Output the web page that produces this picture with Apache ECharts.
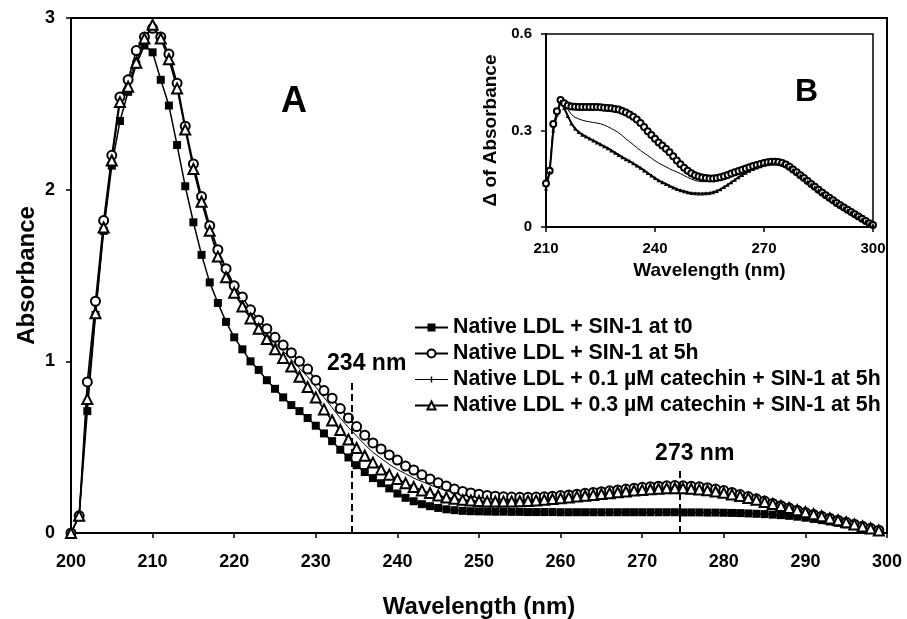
<!DOCTYPE html>
<html>
<head>
<meta charset="utf-8">
<script src="https://cdn.jsdelivr.net/npm/echarts@6/dist/echarts.min.js"></script>
<style>
  html, body { margin: 0; padding: 0; background: #fff; }
  #chart { width: 907px; height: 619px; }
</style>
</head>
<body>
<div id="chart"></div>
<script>
'use strict';

var FONT = '"Liberation Sans", Arial, Helvetica, sans-serif';

// main panel A: wavelength (nm) and absorbance
var wlMain = [
  200, 201, 202, 203, 204, 205, 206, 207, 208, 209,
  210, 211, 212, 213, 214, 215, 216, 217, 218, 219,
  220, 221, 222, 223, 224, 225, 226, 227, 228, 229,
  230, 231, 232, 233, 234, 235, 236, 237, 238, 239,
  240, 241, 242, 243, 244, 245, 246, 247, 248, 249,
  250, 251, 252, 253, 254, 255, 256, 257, 258, 259,
  260, 261, 262, 263, 264, 265, 266, 267, 268, 269,
  270, 271, 272, 273, 274, 275, 276, 277, 278, 279,
  280, 281, 282, 283, 284, 285, 286, 287, 288, 289,
  290, 291, 292, 293, 294, 295, 296, 297, 298, 299
];

var sinT0 = [
  0, 0.10, 0.71, 1.27, 1.76, 2.14, 2.40, 2.57, 2.73, 2.84,
  2.80, 2.64, 2.49, 2.26, 2.02, 1.81, 1.62, 1.46, 1.34, 1.23,
  1.14, 1.07, 1.00, 0.95, 0.89, 0.84, 0.79, 0.745, 0.71, 0.67,
  0.625, 0.58, 0.535, 0.485, 0.44, 0.395, 0.355, 0.32, 0.29, 0.26,
  0.23, 0.205, 0.185, 0.168, 0.156, 0.146, 0.138, 0.133, 0.129, 0.127,
  0.126, 0.125, 0.124, 0.124, 0.123, 0.123, 0.122, 0.122, 0.122, 0.122,
  0.121, 0.121, 0.121, 0.121, 0.121, 0.121, 0.121, 0.121, 0.121, 0.121,
  0.121, 0.121, 0.121, 0.121, 0.121, 0.120, 0.120, 0.120, 0.119, 0.119,
  0.118, 0.117, 0.116, 0.114, 0.112, 0.110, 0.107, 0.104, 0.100, 0.095,
  0.089, 0.082, 0.075, 0.067, 0.059, 0.050, 0.041, 0.032, 0.022, 0.012
];

var sin5h = [
  0, 0.10, 0.88, 1.35, 1.82, 2.20, 2.54, 2.64, 2.81, 2.89,
  2.94, 2.89, 2.79, 2.62, 2.37, 2.15, 1.96, 1.79, 1.65, 1.54,
  1.44, 1.375, 1.30, 1.24, 1.19, 1.14, 1.095, 1.05, 1.00, 0.955,
  0.89, 0.83, 0.785, 0.725, 0.67, 0.62, 0.57, 0.525, 0.49, 0.455,
  0.425, 0.39, 0.367, 0.34, 0.315, 0.293, 0.274, 0.256, 0.242, 0.233,
  0.226, 0.219, 0.214, 0.211, 0.209, 0.208, 0.208, 0.209, 0.211, 0.214,
  0.218, 0.222, 0.226, 0.231, 0.236, 0.241, 0.246, 0.251, 0.256, 0.261,
  0.266, 0.270, 0.273, 0.275, 0.276, 0.275, 0.273, 0.269, 0.264, 0.256,
  0.247, 0.236, 0.224, 0.212, 0.199, 0.186, 0.172, 0.159, 0.146, 0.133,
  0.120, 0.108, 0.097, 0.086, 0.075, 0.063, 0.051, 0.039, 0.027, 0.016
];

var cat01 = [
  0, 0.10, 0.80, 1.30, 1.80, 2.18, 2.52, 2.62, 2.77, 2.88,
  2.95, 2.88, 2.77, 2.60, 2.36, 2.13, 1.94, 1.77, 1.63, 1.51,
  1.42, 1.35, 1.28, 1.22, 1.16, 1.11, 1.06, 1.01, 0.96, 0.91,
  0.85, 0.79, 0.73, 0.67, 0.615, 0.565, 0.515, 0.47, 0.435, 0.40,
  0.37, 0.345, 0.32, 0.30, 0.28, 0.262, 0.246, 0.233, 0.222, 0.214,
  0.208, 0.203, 0.199, 0.197, 0.196, 0.196, 0.197, 0.199, 0.202, 0.206,
  0.210, 0.214, 0.219, 0.224, 0.229, 0.234, 0.239, 0.244, 0.249, 0.254,
  0.258, 0.262, 0.265, 0.267, 0.268, 0.267, 0.265, 0.261, 0.255, 0.248,
  0.240, 0.230, 0.220, 0.208, 0.196, 0.184, 0.172, 0.159, 0.146, 0.134,
  0.121, 0.109, 0.097, 0.085, 0.074, 0.062, 0.050, 0.038, 0.026, 0.014
];

var cat03 = [
  0, 0.10, 0.78, 1.28, 1.78, 2.17, 2.51, 2.60, 2.74, 2.88,
  2.96, 2.88, 2.76, 2.59, 2.35, 2.12, 1.93, 1.76, 1.61, 1.49,
  1.40, 1.32, 1.25, 1.19, 1.13, 1.07, 1.02, 0.97, 0.91, 0.85,
  0.79, 0.72, 0.655, 0.60, 0.545, 0.495, 0.45, 0.41, 0.37, 0.34,
  0.315, 0.29, 0.268, 0.248, 0.233, 0.218, 0.207, 0.199, 0.193, 0.189,
  0.186, 0.184, 0.183, 0.183, 0.184, 0.185, 0.187, 0.190, 0.194, 0.198,
  0.202, 0.207, 0.212, 0.217, 0.222, 0.227, 0.232, 0.237, 0.242, 0.247,
  0.251, 0.255, 0.258, 0.260, 0.261, 0.260, 0.258, 0.254, 0.249, 0.242,
  0.234, 0.225, 0.215, 0.204, 0.193, 0.181, 0.169, 0.157, 0.145, 0.133,
  0.121, 0.109, 0.097, 0.085, 0.074, 0.063, 0.050, 0.038, 0.026, 0.014
];

// inset panel B: delta of absorbance
var wlInset = [
  210, 211, 212, 213, 214, 215, 216, 217, 218, 219,
  220, 221, 222, 223, 224, 225, 226, 227, 228, 229,
  230, 231, 232, 233, 234, 235, 236, 237, 238, 239,
  240, 241, 242, 243, 244, 245, 246, 247, 248, 249,
  250, 251, 252, 253, 254, 255, 256, 257, 258, 259,
  260, 261, 262, 263, 264, 265, 266, 267, 268, 269,
  270, 271, 272, 273, 274, 275, 276, 277, 278, 279,
  280, 281, 282, 283, 284, 285, 286, 287, 288, 289,
  290, 291, 292, 293, 294, 295, 296, 297, 298, 299,
  300
];

var dSin5h = [
  0.135, 0.175, 0.32, 0.36, 0.395, 0.385, 0.378, 0.375, 0.374, 0.373,
  0.373, 0.373, 0.373, 0.373, 0.373, 0.372, 0.371, 0.370, 0.369, 0.367,
  0.365, 0.361, 0.356, 0.350, 0.343, 0.334, 0.323, 0.311, 0.298, 0.286,
  0.274, 0.263, 0.253, 0.243, 0.232, 0.220, 0.207, 0.195, 0.184, 0.175,
  0.167, 0.161, 0.157, 0.154, 0.152, 0.151, 0.151, 0.152, 0.155, 0.158,
  0.162, 0.166, 0.170, 0.174, 0.178, 0.182, 0.186, 0.190, 0.193, 0.196,
  0.199, 0.201, 0.203, 0.203, 0.202, 0.199, 0.194, 0.187, 0.179, 0.170,
  0.161, 0.152, 0.143, 0.134, 0.125, 0.116, 0.107, 0.099, 0.091, 0.083,
  0.075, 0.068, 0.061, 0.054, 0.047, 0.040, 0.033, 0.026, 0.019, 0.012,
  0.006
];

var dCat01 = [
  0.13, 0.17, 0.31, 0.355, 0.39, 0.38, 0.365, 0.350, 0.341, 0.336,
  0.332, 0.329, 0.327, 0.325, 0.323, 0.321, 0.317, 0.312, 0.306, 0.300,
  0.293, 0.284, 0.274, 0.265, 0.256, 0.247, 0.238, 0.230, 0.222, 0.214,
  0.206, 0.199, 0.193, 0.187, 0.181, 0.176, 0.171, 0.166, 0.160, 0.154,
  0.149, 0.145, 0.142, 0.141, 0.141, 0.142, 0.145, 0.150, 0.155, 0.159,
  0.163, 0.167, 0.171, 0.175, 0.179, 0.183, 0.187, 0.190, 0.193, 0.196,
  0.198, 0.200, 0.201, 0.201, 0.200, 0.197, 0.192, 0.185, 0.177, 0.168,
  0.159, 0.150, 0.141, 0.132, 0.123, 0.114, 0.105, 0.097, 0.089, 0.081,
  0.073, 0.066, 0.059, 0.052, 0.045, 0.038, 0.031, 0.024, 0.018, 0.011,
  0.005
];

var dCat03 = [
  0.12, 0.17, 0.30, 0.35, 0.39, 0.37, 0.345, 0.322, 0.306, 0.295,
  0.287, 0.281, 0.275, 0.269, 0.263, 0.257, 0.251, 0.245, 0.238, 0.231,
  0.224, 0.217, 0.211, 0.205, 0.198, 0.191, 0.184, 0.176, 0.168, 0.160,
  0.152, 0.145, 0.139, 0.134, 0.128, 0.123, 0.118, 0.114, 0.111, 0.108,
  0.106, 0.105, 0.104, 0.104, 0.105, 0.106, 0.108, 0.112, 0.117, 0.124,
  0.131, 0.139, 0.147, 0.155, 0.162, 0.169, 0.175, 0.180, 0.185, 0.189,
  0.193, 0.196, 0.198, 0.199, 0.198, 0.196, 0.192, 0.186, 0.178, 0.169,
  0.160, 0.151, 0.142, 0.133, 0.124, 0.115, 0.106, 0.098, 0.090, 0.082,
  0.074, 0.067, 0.060, 0.053, 0.046, 0.039, 0.032, 0.025, 0.018, 0.012,
  0.006
];

var names = [
  'Native LDL + SIN-1 at t0',
  'Native LDL + SIN-1 at 5h',
  'Native LDL + 0.1 \u00b5M catechin + SIN-1 at 5h',
  'Native LDL + 0.3 \u00b5M catechin + SIN-1 at 5h'
];

// dashed guide lines: [wavelength, top of line, label, label gap]
var guides = [
  [234.4, 0.88, '234 nm', 7],
  [274.6, 0.385, '273 nm', 2]
];

function pairs(xs, ys) {
  var out = [];
  for (var i = 0; i < xs.length; i++) {
    out.push([xs[i], ys[i]]);
  }
  return out;
}

var guideData = guides.map(function (g) {
  return [
    { name: g[2], coord: [g[0], 0] },
    { name: g[2], coord: [g[0], g[1]], label: { distance: g[3] } }
  ];
});

function axisCommon(size, margin) {
  return {
    axisLine: { show: true, lineStyle: { color: '#000', width: 2 } },
    axisTick: { show: true, inside: false, length: 5, lineStyle: { color: '#000', width: 1.5 } },
    splitLine: { show: false },
    axisLabel: { color: '#000', fontFamily: FONT, fontWeight: 'bold', fontSize: size, margin: margin }
  };
}

// thin line with a small tick, for the 0.1 uM legend entry
var tickIcon = 'path://M0,4.4L33,4.4L33,5.6L0,5.6Z M15.8,2L17.2,2L17.2,8L15.8,8Z';

var option = {
  animation: false,
  backgroundColor: '#fff',
  title: [
    { text: 'A', left: 276, top: 79, textStyle: { color: '#000', fontFamily: FONT, fontWeight: 'bold', fontSize: 36 } },
    { text: 'B', left: 790, top: 71, textStyle: { color: '#000', fontFamily: FONT, fontWeight: 'bold', fontSize: 32 } }
  ],
  legend: {
    data: [
      { name: names[0] },
      { name: names[1] },
      { name: names[2], icon: tickIcon },
      { name: names[3] }
    ],
    orient: 'vertical',
    left: 409,
    top: 312,
    itemWidth: 33,
    itemHeight: 10,
    itemGap: 5,
    textStyle: { color: '#000', fontFamily: FONT, fontWeight: 'bold', fontSize: 21.3 }
  },
  grid: [
    { left: 71, top: 18, width: 816, height: 515, show: true, borderColor: '#000', borderWidth: 2, outerBoundsMode: 'none', containLabel: false },
    { left: 546, top: 34, width: 327, height: 193, show: true, borderColor: '#000', borderWidth: 1.5, outerBoundsMode: 'none', containLabel: false }
  ],
  xAxis: [
    Object.assign(axisCommon(18, 20), {
      type: 'value', gridIndex: 0, min: 200, max: 300, interval: 10,
      name: 'Wavelength (nm)', nameLocation: 'middle', nameGap: 62,
      nameTextStyle: { color: '#000', fontFamily: FONT, fontWeight: 'bold', fontSize: 24 }
    }),
    Object.assign(axisCommon(15, 14), {
      type: 'value', gridIndex: 1, min: 210, max: 300, interval: 30,
      name: 'Wavelength (nm)', nameLocation: 'middle', nameGap: 34,
      nameTextStyle: { color: '#000', fontFamily: FONT, fontWeight: 'bold', fontSize: 19 }
    })
  ],
  yAxis: [
    Object.assign(axisCommon(18, 16), {
      type: 'value', gridIndex: 0, min: 0, max: 3, interval: 1,
      name: 'Absorbance', nameLocation: 'middle', nameGap: 32, nameMoveOverlap: false,
      nameTextStyle: { color: '#000', fontFamily: FONT, fontWeight: 'bold', fontSize: 24 }
    }),
    Object.assign(axisCommon(15, 14), {
      type: 'value', gridIndex: 1, min: 0, max: 0.6, interval: 0.3,
      name: '\u0394 of Absorbance', nameLocation: 'middle', nameGap: 46,
      nameTextStyle: { color: '#000', fontFamily: FONT, fontWeight: 'bold', fontSize: 19 }
    })
  ],
  series: [{
    name: names[0],
    type: 'line',
    xAxisIndex: 0, yAxisIndex: 0,
    data: pairs(wlMain, sinT0),
    symbol: 'rect',
    symbolSize: 8,
    itemStyle: { color: '#000' },
    lineStyle: { color: '#000', width: 1.5 },
    markLine: {
      silent: true,
      symbol: ['none', 'none'],
      lineStyle: { color: '#000', width: 2, type: [7, 4] },
      label: {
        show: true,
        position: 'end',
        formatter: '{b}',
        offset: [15, 0],
        color: '#000', fontFamily: FONT, fontWeight: 'bold', fontSize: 23
      },
      data: guideData
    }
  }, {
    name: names[1],
    type: 'line',
    xAxisIndex: 0, yAxisIndex: 0,
    data: pairs(wlMain, sin5h),
    symbol: 'emptyCircle',
    symbolSize: 9,
    itemStyle: { color: '#000', borderWidth: 1.5 },
    lineStyle: { color: '#000', width: 1.5 }
  }, {
    name: names[3],
    type: 'line',
    xAxisIndex: 0, yAxisIndex: 0,
    data: pairs(wlMain, cat03),
    symbol: 'emptyTriangle',
    symbolSize: 10,
    itemStyle: { color: '#000', borderWidth: 1.3 },
    lineStyle: { color: '#000', width: 1.5 }
  }, {
    name: names[2],
    type: 'line',
    xAxisIndex: 0, yAxisIndex: 0,
    data: pairs(wlMain, cat01),
    symbol: 'none',
    itemStyle: { color: '#000' },
    lineStyle: { color: '#000', width: 1 }
  }, {
    name: 'dB 5h',
    type: 'line',
    xAxisIndex: 1, yAxisIndex: 1,
    data: pairs(wlInset, dSin5h),
    symbol: 'emptyCircle',
    symbolSize: 6,
    itemStyle: { color: '#000', borderWidth: 1.3 },
    lineStyle: { color: '#000', width: 1 }
  }, {
    name: 'dB 0.1',
    type: 'line',
    xAxisIndex: 1, yAxisIndex: 1,
    data: pairs(wlInset, dCat01),
    symbol: 'none',
    lineStyle: { color: '#000', width: 1 }
  }, {
    name: 'dB 0.3',
    type: 'line',
    xAxisIndex: 1, yAxisIndex: 1,
    data: pairs(wlInset, dCat03),
    symbol: 'triangle',
    symbolSize: 4,
    itemStyle: { color: '#000' },
    lineStyle: { color: '#000', width: 2 }
  }]
};

var myChart = echarts.init(document.getElementById('chart'));
myChart.setOption(option);
</script>
</body>
</html>
